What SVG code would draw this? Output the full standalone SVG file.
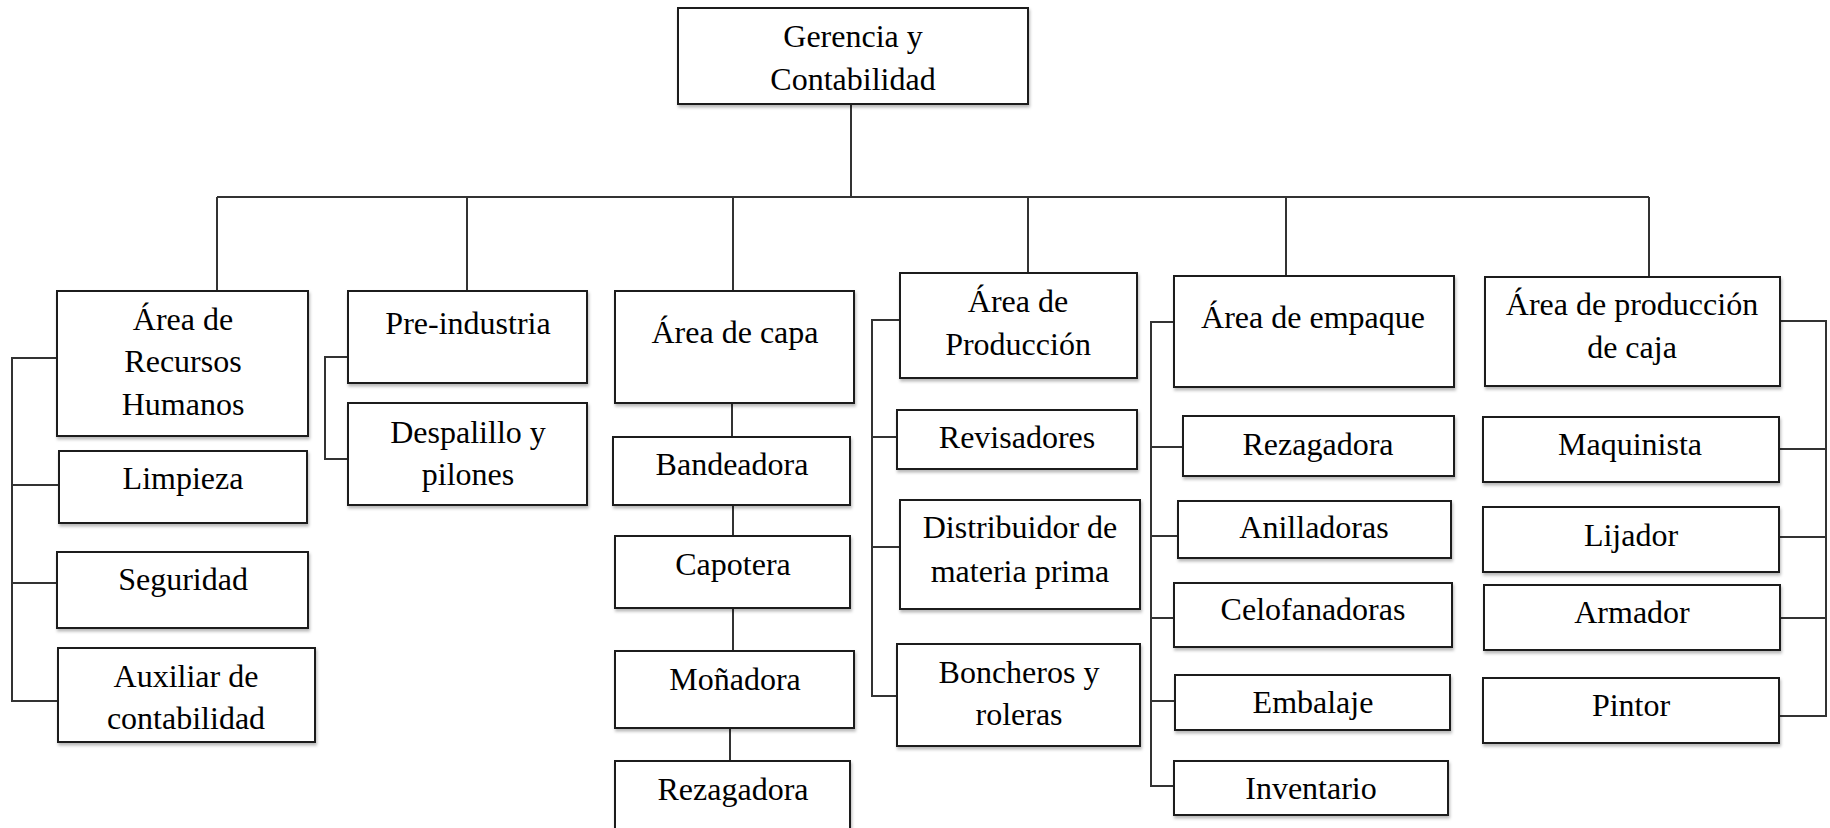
<svg xmlns="http://www.w3.org/2000/svg" width="1830" height="828" viewBox="0 0 1830 828">
<style>
.box{fill:#fff;stroke:#1a1a1a;stroke-width:2;filter:url(#sh)}
.t{font-family:"Liberation Serif","Times New Roman",serif;font-size:32px;fill:#000;text-anchor:middle}
.c{fill:none;stroke:#333;stroke-width:2}
</style>
<defs>
<filter id="sh" x="-5%" y="-10%" width="115%" height="130%">
<feDropShadow dx="1" dy="2.5" stdDeviation="1.8" flood-color="#000" flood-opacity="0.28"/>
</filter>
</defs>
<rect width="1830" height="828" fill="#fff"/>
<g id="connectors" class="c">
<path d="M851 104V197M217 197H1649M217 197V291M467 197V291M733 197V291M1028 197V273M1286 197V276M1649 197V277"/>
<path d="M57 358H12V701H58M12 485H59M12 583H57"/>
<path d="M348 357H325V459H348"/>
<path d="M732 403V437M733 505V536M733 608V651M730 728V761"/>
<path d="M900 320H872V696H897M872 437H897M872 547H900"/>
<path d="M1174 322H1151V786H1174M1151 447H1183M1151 536H1178M1151 618H1174M1151 701H1175"/>
<path d="M1780 321H1826V716H1779M1826 449H1779M1826 537H1779M1826 618H1780"/>
</g>
<g id="n-gerencia"><rect class="box" x="678" y="8" width="350" height="96"/><text class="t" x="853" y="47">Gerencia y</text><text class="t" x="853" y="90">Contabilidad</text></g>
<g id="n-rh"><rect class="box" x="57" y="291" width="251" height="145"/><text class="t" x="183" y="330">Área de</text><text class="t" x="183" y="372">Recursos</text><text class="t" x="183" y="415">Humanos</text></g>
<g id="n-limpieza"><rect class="box" x="59" y="451" width="248" height="72"/><text class="t" x="183" y="489">Limpieza</text></g>
<g id="n-seguridad"><rect class="box" x="57" y="552" width="251" height="76"/><text class="t" x="183" y="590">Seguridad</text></g>
<g id="n-auxiliar"><rect class="box" x="58" y="648" width="257" height="94"/><text class="t" x="186" y="687">Auxiliar de</text><text class="t" x="186" y="729">contabilidad</text></g>
<g id="n-preindustria"><rect class="box" x="348" y="291" width="239" height="92"/><text class="t" x="468" y="334">Pre-industria</text></g>
<g id="n-despalillo"><rect class="box" x="348" y="403" width="239" height="102"/><text class="t" x="468" y="443">Despalillo y</text><text class="t" x="468" y="485">pilones</text></g>
<g id="n-capa"><rect class="box" x="615" y="291" width="239" height="112"/><text class="t" x="735" y="343">Área de capa</text></g>
<g id="n-bandeadora"><rect class="box" x="613" y="437" width="237" height="68"/><text class="t" x="732" y="475">Bandeadora</text></g>
<g id="n-capotera"><rect class="box" x="615" y="536" width="235" height="72"/><text class="t" x="733" y="575">Capotera</text></g>
<g id="n-monadora"><rect class="box" x="615" y="651" width="239" height="77"/><text class="t" x="735" y="690">Moñadora</text></g>
<g id="n-rezagadora1"><rect class="box" x="615" y="761" width="235" height="90"/><text class="t" x="733" y="800">Rezagadora</text></g>
<g id="n-produccion"><rect class="box" x="900" y="273" width="237" height="105"/><text class="t" x="1018" y="312">Área de</text><text class="t" x="1018" y="355">Producción</text></g>
<g id="n-revisadores"><rect class="box" x="897" y="410" width="240" height="59"/><text class="t" x="1017" y="448">Revisadores</text></g>
<g id="n-distribuidor"><rect class="box" x="900" y="500" width="240" height="109"/><text class="t" x="1020" y="538">Distribuidor de</text><text class="t" x="1020" y="582">materia prima</text></g>
<g id="n-boncheros"><rect class="box" x="897" y="644" width="243" height="102"/><text class="t" x="1019" y="683">Boncheros y</text><text class="t" x="1019" y="725">roleras</text></g>
<g id="n-empaque"><rect class="box" x="1174" y="276" width="280" height="111"/><text class="t" x="1313" y="328">Área de empaque</text></g>
<g id="n-rezagadora2"><rect class="box" x="1183" y="416" width="271" height="60"/><text class="t" x="1318" y="455">Rezagadora</text></g>
<g id="n-anilladoras"><rect class="box" x="1178" y="501" width="273" height="57"/><text class="t" x="1314" y="538">Anilladoras</text></g>
<g id="n-celofanadoras"><rect class="box" x="1174" y="583" width="278" height="64"/><text class="t" x="1313" y="620">Celofanadoras</text></g>
<g id="n-embalaje"><rect class="box" x="1175" y="675" width="275" height="55"/><text class="t" x="1313" y="713">Embalaje</text></g>
<g id="n-inventario"><rect class="box" x="1174" y="761" width="274" height="54"/><text class="t" x="1311" y="799">Inventario</text></g>
<g id="n-caja"><rect class="box" x="1485" y="277" width="295" height="109"/><text class="t" x="1632" y="315">Área de producción</text><text class="t" x="1632" y="358">de caja</text></g>
<g id="n-maquinista"><rect class="box" x="1483" y="417" width="296" height="65"/><text class="t" x="1630" y="455">Maquinista</text></g>
<g id="n-lijador"><rect class="box" x="1483" y="507" width="296" height="65"/><text class="t" x="1631" y="546">Lijador</text></g>
<g id="n-armador"><rect class="box" x="1484" y="585" width="296" height="65"/><text class="t" x="1632" y="623">Armador</text></g>
<g id="n-pintor"><rect class="box" x="1483" y="678" width="296" height="65"/><text class="t" x="1631" y="716">Pintor</text></g>
</svg>
